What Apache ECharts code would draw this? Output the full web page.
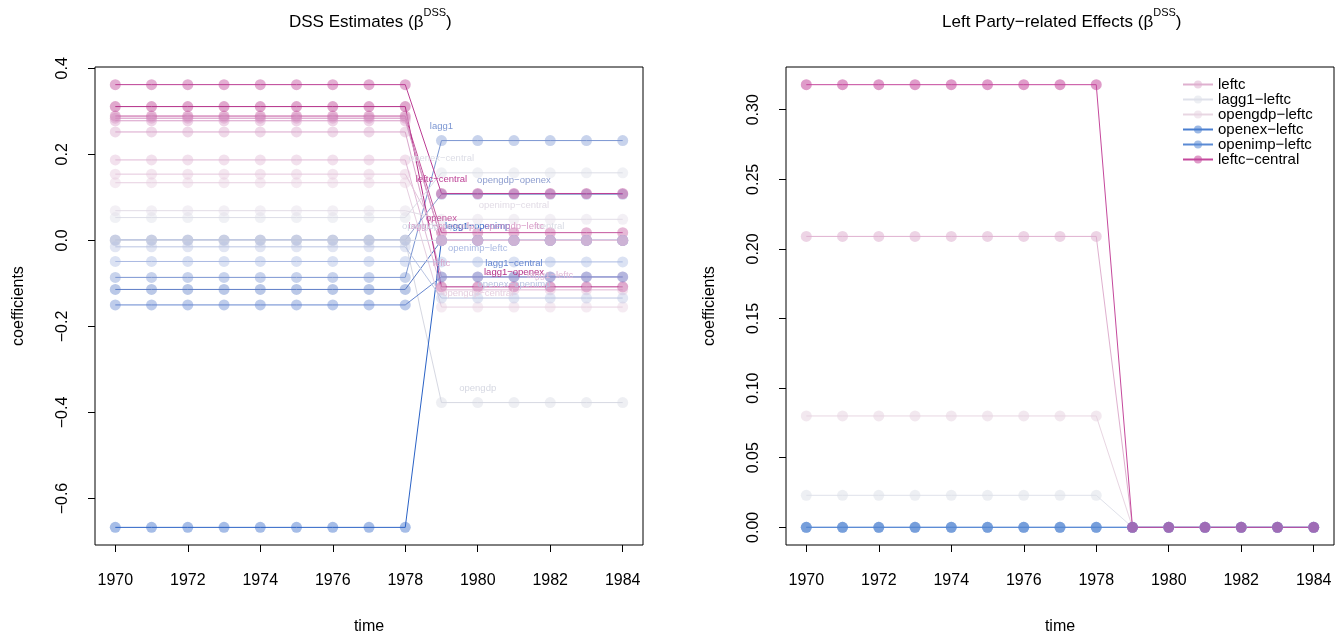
<!DOCTYPE html>
<html>
<head>
<meta charset="utf-8">
<script src="https://cdn.jsdelivr.net/npm/echarts@6/dist/echarts.min.js"></script>
<style>
html, body { margin: 0; padding: 0; background: #fff; }
#chart { width: 1344px; height: 640px; }
</style>
</head>
<body>
<div id="chart"></div>
<script>
// years on the x axis
var years = [1970, 1971, 1972, 1973, 1974, 1975, 1976, 1977, 1978, 1979, 1980, 1981, 1982, 1983, 1984];
var yearTicks = [1970, 1972, 1974, 1976, 1978, 1980, 1982, 1984];
var dssTicks = [-0.6, -0.4, -0.2, 0, 0.2, 0.4];
var leftTicks = [0, 0.05, 0.10, 0.15, 0.20, 0.25, 0.30];

// left panel: DSS estimates, one row per term (1970 ... 1984)
var dssTerms = ['lagg1', 'opengdp', 'openex', 'openimp', 'leftc', 'central',
  'lagg1-opengdp', 'lagg1-openex', 'lagg1-openimp', 'lagg1-leftc', 'lagg1-central',
  'opengdp-openex', 'opengdp-openimp', 'opengdp-leftc', 'opengdp-central',
  'openex-openimp', 'openex-leftc', 'openex-central',
  'openimp-leftc', 'openimp-central', 'leftc-central'];
var dssValues = [
  [-0.086, -0.086, -0.086, -0.086, -0.086, -0.086, -0.086, -0.086, -0.086, 0.232, 0.232, 0.232, 0.232, 0.232, 0.232],
  [0.000, 0.000, 0.000, 0.000, 0.000, 0.000, 0.000, 0.000, 0.000, -0.377, -0.377, -0.377, -0.377, -0.377, -0.377],
  [0.289, 0.289, 0.289, 0.289, 0.289, 0.289, 0.289, 0.289, 0.289, 0.018, 0.018, 0.018, 0.018, 0.018, 0.018],
  [-0.114, -0.114, -0.114, -0.114, -0.114, -0.114, -0.114, -0.114, -0.114, 0.000, 0.000, 0.000, 0.000, 0.000, 0.000],
  [0.252, 0.252, 0.252, 0.252, 0.252, 0.252, 0.252, 0.252, 0.252, -0.085, -0.085, -0.085, -0.085, -0.085, -0.085],
  [0.000, 0.000, 0.000, 0.000, 0.000, 0.000, 0.000, 0.000, 0.000, 0.000, 0.000, 0.000, 0.000, 0.000, 0.000],
  [0.284, 0.284, 0.284, 0.284, 0.284, 0.284, 0.284, 0.284, 0.284, 0.000, 0.000, 0.000, 0.000, 0.000, 0.000],
  [0.311, 0.311, 0.311, 0.311, 0.311, 0.311, 0.311, 0.311, 0.311, -0.108, -0.108, -0.108, -0.108, -0.108, -0.108],
  [-0.667, -0.667, -0.667, -0.667, -0.667, -0.667, -0.667, -0.667, -0.667, 0.000, 0.000, 0.000, 0.000, 0.000, 0.000],
  [0.187, 0.187, 0.187, 0.187, 0.187, 0.187, 0.187, 0.187, 0.187, -0.115, -0.115, -0.115, -0.115, -0.115, -0.115],
  [-0.150, -0.150, -0.150, -0.150, -0.150, -0.150, -0.150, -0.150, -0.150, -0.085, -0.085, -0.085, -0.085, -0.085, -0.085],
  [0.001, 0.001, 0.001, 0.001, 0.001, 0.001, 0.001, 0.001, 0.001, 0.107, 0.107, 0.107, 0.107, 0.107, 0.107],
  [0.000, 0.000, 0.000, 0.000, 0.000, 0.000, 0.000, 0.000, 0.000, 0.000, 0.000, 0.000, 0.000, 0.000, 0.000],
  [0.278, 0.278, 0.278, 0.278, 0.278, 0.278, 0.278, 0.278, 0.278, 0.000, 0.000, 0.000, 0.000, 0.000, 0.000],
  [0.134, 0.134, 0.134, 0.134, 0.134, 0.134, 0.134, 0.134, 0.134, -0.155, -0.155, -0.155, -0.155, -0.155, -0.155],
  [-0.015, -0.015, -0.015, -0.015, -0.015, -0.015, -0.015, -0.015, -0.015, -0.134, -0.134, -0.134, -0.134, -0.134, -0.134],
  [0.154, 0.154, 0.154, 0.154, 0.154, 0.154, 0.154, 0.154, 0.154, 0.000, 0.000, 0.000, 0.000, 0.000, 0.000],
  [0.053, 0.053, 0.053, 0.053, 0.053, 0.053, 0.053, 0.053, 0.053, 0.157, 0.157, 0.157, 0.157, 0.157, 0.157],
  [-0.049, -0.049, -0.049, -0.049, -0.049, -0.049, -0.049, -0.049, -0.049, -0.050, -0.050, -0.050, -0.050, -0.050, -0.050],
  [0.069, 0.069, 0.069, 0.069, 0.069, 0.069, 0.069, 0.069, 0.069, 0.049, 0.049, 0.049, 0.049, 0.049, 0.049],
  [0.362, 0.362, 0.362, 0.362, 0.362, 0.362, 0.362, 0.362, 0.362, 0.109, 0.109, 0.109, 0.109, 0.109, 0.109]
];
// year at which each term's name is written (null = hidden under others)
var dssLabelYear = [1979, 1980, 1979, null, 1979, 1982, 1979, 1981, 1980, 1982, 1981,
  1981, 1979, 1981, 1980, 1981, null, 1979, 1980, 1981, 1979];

// right panel: left party related effects
var leftTerms = ['leftc', 'lagg1-leftc', 'opengdp-leftc', 'openex-leftc', 'openimp-leftc', 'leftc-central'];
var leftValues = [
  [0.209, 0.209, 0.209, 0.209, 0.209, 0.209, 0.209, 0.209, 0.209, 0, 0, 0, 0, 0, 0],
  [0.023, 0.023, 0.023, 0.023, 0.023, 0.023, 0.023, 0.023, 0.023, 0, 0, 0, 0, 0, 0],
  [0.080, 0.080, 0.080, 0.080, 0.080, 0.080, 0.080, 0.080, 0.080, 0, 0, 0, 0, 0, 0],
  [0, 0, 0, 0, 0, 0, 0, 0, 0, 0, 0, 0, 0, 0, 0],
  [0, 0, 0, 0, 0, 0, 0, 0, 0, 0, 0, 0, 0, 0, 0],
  [0.318, 0.318, 0.318, 0.318, 0.318, 0.318, 0.318, 0.318, 0.318, 0, 0, 0, 0, 0, 0]
];

// colours
var dssColors = ['#7b96d2', '#d6d8e2', '#c4569e', '#5b7cc6', '#d9a6cb', '#d9dbe4',
  '#d28cbf', '#b42f88', '#2a62c6', '#e0b8d5', '#6586cf',
  '#8e9ecf', '#d3d8e6', '#d89cc8', '#e6cfe0',
  '#b9c4e2', '#e4c6dc', '#dcdde6',
  '#a9b9e2', '#e2dce6', '#bc3e94'];
var leftColors = ['#dfb0cf', '#dfe1ea', '#e8d6e2', '#4a7fd0', '#5a8ad4', '#c5489c'];

var FONT = '"Liberation Sans", Arial, Helvetica, sans-serif';

function rgba(hex, a) {
  var n = parseInt(hex.slice(1), 16);
  return 'rgba(' + (n >> 16) + ',' + ((n >> 8) & 255) + ',' + (n & 255) + ',' + a + ')';
}
function pretty(s) { return s.replace(/-/g, '\u2212'); }
function minus(v, d) { return v.toFixed(d).replace('-', '\u2212'); }

function lineSeries(name, row, color, idx, labelYear, text, alpha) {
  return {
    name: name,
    type: 'line',
    xAxisIndex: idx,
    yAxisIndex: idx,
    symbol: 'circle',
    symbolSize: 11,
    itemStyle: { color: rgba(color, alpha) },
    lineStyle: { color: color, width: 1 },
    emphasis: { disabled: true },
    data: years.map(function (y, i) {
      var item = { value: [y, row[i]] };
      if (labelYear === y) {
        item.label = {
          show: true, formatter: text, position: 'inside', offset: [0, -14],
          color: color, fontSize: 9.5, fontFamily: FONT
        };
      }
      return item;
    })
  };
}

var series = [];
dssTerms.forEach(function (t, i) {
  series.push(lineSeries('dss ' + t, dssValues[i], dssColors[i], 0, dssLabelYear[i], pretty(t), 0.42));
});
leftTerms.forEach(function (t, i) {
  series.push(lineSeries(pretty(t), leftValues[i], leftColors[i], 1, null, '', 0.55));
});

function xAxis(idx) {
  return {
    type: 'value', gridIndex: idx, min: 1969.44, max: 1984.56,
    name: 'time', nameLocation: 'middle', nameGap: 74,
    nameTextStyle: { fontSize: 16, color: '#000', fontFamily: FONT },
    axisLine: { show: false, onZero: false },
    splitLine: { show: false },
    axisTick: { show: true, length: 7, lineStyle: { color: '#000' }, customValues: yearTicks },
    axisLabel: {
      customValues: yearTicks, fontSize: 16, color: '#000', margin: 28, fontFamily: FONT,
      formatter: function (v) { return String(v); }
    }
  };
}
function yAxis(idx, min, max, ticks, digits) {
  return {
    type: 'value', gridIndex: idx, min: min, max: max,
    name: 'coefficients', nameLocation: 'middle', nameGap: 68,
    nameTextStyle: { fontSize: 16, color: '#000', fontFamily: FONT },
    axisLine: { show: false, onZero: false },
    splitLine: { show: false },
    axisTick: { show: true, length: 7, lineStyle: { color: '#000' }, customValues: ticks },
    axisLabel: {
      customValues: ticks, rotate: 90, fontSize: 16, color: '#000', margin: 24, fontFamily: FONT,
      formatter: function (v) { return minus(v, digits); }
    }
  };
}

var titleRich = {
  a: { fontSize: 17, fontWeight: 'normal', color: '#000', fontFamily: FONT, lineHeight: 24, verticalAlign: 'bottom' },
  s: { fontSize: 11, fontWeight: 'normal', color: '#000', fontFamily: FONT, lineHeight: 24, verticalAlign: 'top' }
};

var option = {
  animation: false,
  backgroundColor: '#fff',
  title: [
    { text: '{a|DSS Estimates (\u03b2}{s|DSS}{a|)}', left: 284, top: 2, textStyle: { fontWeight: 'normal', rich: titleRich } },
    { text: '{a|Left Party\u2212related Effects (\u03b2}{s|DSS}{a|)}', left: 937, top: 2, textStyle: { fontWeight: 'normal', rich: titleRich } }
  ],
  legend: {
    orient: 'vertical', left: 1177, top: 72,
    itemWidth: 30, itemHeight: 10, itemGap: 0,
    textStyle: { fontSize: 15, color: '#000', fontFamily: FONT, lineHeight: 14.5 },
    data: leftTerms.map(pretty),
    selectedMode: false
  },
  grid: [
    { left: 95, top: 67, width: 548, height: 478.5, show: true, borderColor: '#000', borderWidth: 1 },
    { left: 786, top: 67, width: 548, height: 478.5, show: true, borderColor: '#000', borderWidth: 1 }
  ],
  xAxis: [xAxis(0), xAxis(1)],
  yAxis: [yAxis(0, -0.708, 0.403, dssTicks, 1), yAxis(1, -0.0127, 0.3307, leftTicks, 2)],
  series: series
};

var chart = echarts.init(document.getElementById('chart'), null, { renderer: 'canvas' });
chart.setOption(option);
</script>
</body>
</html>
